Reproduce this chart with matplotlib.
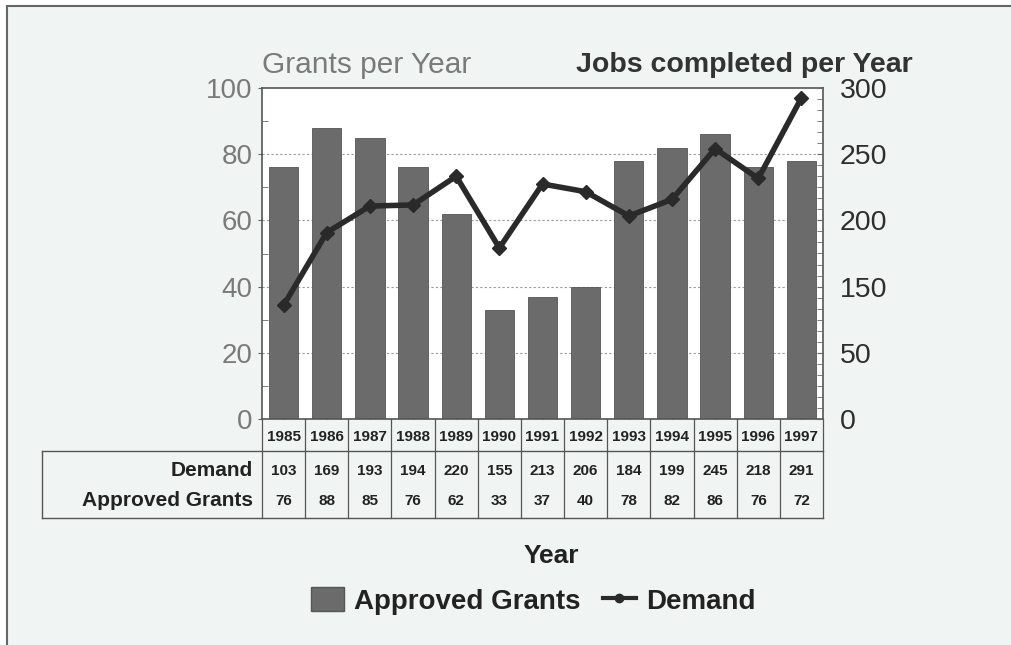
import matplotlib
matplotlib.use("Agg")
import matplotlib.pyplot as plt
from matplotlib.patches import Rectangle, Patch
from matplotlib.lines import Line2D
from matplotlib.ticker import MultipleLocator

plt.rcParams['font.family'] = ['Liberation Sans', 'DejaVu Sans']

# data
years = ['1985', '1986', '1987', '1988', '1989', '1990', '1991',
         '1992', '1993', '1994', '1995', '1996', '1997']
approved_grants = [76, 88, 85, 76, 62, 33, 37, 40, 78, 82, 86, 76, 78]   # bar heights
demand = [103, 169, 193, 194, 220, 155, 213, 206, 184, 199, 245, 218, 291]
# values printed in the table (last one differs from its bar in the original)
table_grants = ['76', '88', '85', '76', '62', '33', '37', '40', '78', '82', '86', '76', '72']
table_demand = [str(v) for v in demand]

left_ticks = [0, 20, 40, 60, 80, 100]
right_ticks = [0, 60, 120, 180, 240, 300]
right_labels = ['0', '50', '150', '200', '250', '300']

W, H = 1011, 645
fig = plt.figure(figsize=(W / 100, H / 100), dpi=100)
fig.patch.set_facecolor('white')

# page background with grey frame on top/left
fig.patches.append(Rectangle((7 / W, 0), 1, 1 - 6 / H, transform=fig.transFigure,
                             facecolor='#f0f4f3', edgecolor='none', zorder=-10))
fig.lines.append(Line2D([7 / W, 7 / W], [0, 1 - 6 / H], transform=fig.transFigure,
                        color='#666666', lw=1.5))
fig.lines.append(Line2D([7 / W, 1], [1 - 6 / H, 1 - 6 / H], transform=fig.transFigure,
                        color='#666666', lw=1.5))

ax = fig.add_axes([262 / W, 1 - 419 / H, (823 - 262) / W, (419 - 88) / H])
ax.set_facecolor('white')
x = list(range(len(years)))

ax.bar(x, approved_grants, width=0.68, color='#6b6b6b', edgecolor='#555555',
       linewidth=0.6, zorder=2)
ax.set_xlim(-0.5, len(years) - 0.5)
ax.set_ylim(0, 100)
ax.set_yticks(left_ticks)
ax.yaxis.set_minor_locator(MultipleLocator(10))
ax.tick_params(axis='y', which='major', direction='out', length=3, pad=4,
               labelsize=20, labelcolor='#7a7a7a', color='#666666')
ax.tick_params(axis='y', which='minor', direction='in', length=4, color='#666666')
ax.set_xticks(x)
ax.tick_params(axis='x', direction='in', length=5, labelbottom=False, color='#444444')
for v in [20, 40, 60, 80]:
    ax.axhline(v, color='#999999', lw=0.8, ls=(0, (2, 2)), zorder=1)
for s in ax.spines.values():
    s.set_color('#555555')
    s.set_linewidth(1.2)

ax2 = ax.twinx()
ax2.plot(x, demand, color='#2a2a2a', lw=4, marker='D', ms=7, zorder=3)
ax2.set_ylim(0, 300)
ax2.set_yticks(right_ticks)
ax2.set_yticklabels(right_labels)
ax2.yaxis.set_minor_locator(MultipleLocator(10))
ax2.tick_params(axis='y', which='major', direction='in', length=4, pad=12,
                labelsize=20.5, labelcolor='#2e2e2e', color='#666666')
ax2.tick_params(axis='y', which='minor', direction='in', length=4, color='#666666')
for s in ax2.spines.values():
    s.set_visible(False)

# table under the axes
tr = ax.get_xaxis_transform()
y_year, y_dem, y_gr = -0.0544, -0.157, -0.2477
y_mid, y_bot = -0.0967, -0.299
xl = (42 - 262) / (823 - 262)
lc = '#555555'
for i in range(len(years)):
    ax.text(i, y_year, years[i], transform=tr, ha='center', va='center',
            fontsize=11, fontweight='bold', color='#222222')
    ax.text(i, y_dem, table_demand[i], transform=tr, ha='center', va='center',
            fontsize=11, fontweight='bold', color='#222222')
    ax.text(i, y_gr, table_grants[i], transform=tr, ha='center', va='center',
            fontsize=11, fontweight='bold', color='#222222')
for i in range(len(years) + 1):
    ax.plot([i - 0.5, i - 0.5], [0, y_bot], transform=tr, color=lc, lw=0.9,
            clip_on=False)
ax.plot([xl, 1], [y_mid, y_mid], transform=ax.transAxes, color=lc, lw=1, clip_on=False)
ax.plot([xl, 1], [y_bot, y_bot], transform=ax.transAxes, color=lc, lw=1, clip_on=False)
ax.plot([xl, xl], [y_mid, y_bot], transform=ax.transAxes, color=lc, lw=1, clip_on=False)
ax.text(-0.016, y_dem, 'Demand', transform=ax.transAxes, ha='right', va='center',
        fontsize=15, fontweight='bold', color='#222222')
ax.text(-0.016, y_gr, 'Approved Grants', transform=ax.transAxes, ha='right', va='center',
        fontsize=15, fontweight='bold', color='#222222')

# titles
fig.text(262 / W, 1 - 65 / H, 'Grants per Year', ha='left', va='center',
         fontsize=21.5, color='#7a7a7a')
fig.text(913 / W, 1 - 65 / H, 'Jobs completed per Year', ha='right', va='center',
         fontsize=20.5, fontweight='bold', color='#333333')
fig.text(551 / W, 1 - 556 / H, 'Year', ha='center', va='center',
         fontsize=19, fontweight='bold', color='#222222')

handles = [Patch(facecolor='#6b6b6b', edgecolor='#555555', label='Approved Grants'),
           Line2D([], [], color='#2a2a2a', lw=3, marker='o', ms=6, label='Demand')]
leg = fig.legend(handles=handles, loc='center', bbox_to_anchor=(533 / W, 1 - 601 / H),
                 ncol=2, frameon=False, handlelength=1.2, handleheight=0.95,
                 handletextpad=0.35, columnspacing=0.8,
                 prop={'size': 20, 'weight': 'bold'})
for t in leg.get_texts():
    t.set_color('#222222')

fig.savefig('out.png', dpi=100, facecolor=fig.get_facecolor())
